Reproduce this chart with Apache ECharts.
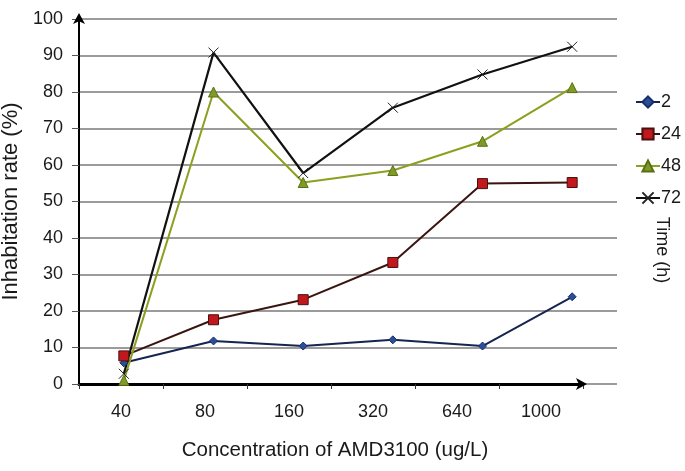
<!DOCTYPE html>
<html><head><meta charset="utf-8">
<script src="https://cdn.jsdelivr.net/npm/echarts@6/dist/echarts.min.js"></script>
<style>html,body{margin:0;padding:0;background:#fff}#c{width:685px;height:471px}</style>
</head><body><div id="c"></div>
<script>
const categories = ['40', '80', '160', '320', '640', '1000'];
const seriesNames = ['2', '24', '48', '72'];
const values2  = [5.8, 11.8, 10.4, 12.1, 10.4, 23.9];
const values24 = [7.7, 17.6, 23.1, 33.3, 54.9, 55.2];
const values48 = [1.0, 80.0, 55.2, 58.5, 66.5, 81.2];
const values72 = [2.8, 90.8, 57.8, 75.7, 84.8, 92.4];
const yTicks = { min: 0, max: 100, interval: 10 };

const FONT = 'Liberation Sans, Arial, sans-serif';
const chart = echarts.init(document.getElementById('c'), null, { renderer: 'canvas' });
const xMark = 'path://M0,0L10,10M10,0L0,10';

chart.setOption({
  animation: false,
  textStyle: { fontFamily: FONT },
  grid: [
    { left: 79, right: 68, top: 19, bottom: 87, outerBoundsMode: 'none', containLabel: false },
    { left: 79, right: 102, top: 19, bottom: 87, outerBoundsMode: 'none', containLabel: false }
  ],
  xAxis: [
    { type: 'category', gridIndex: 0, data: categories, boundaryGap: true, show: false },
    {
      type: 'category', gridIndex: 1, data: categories, boundaryGap: true,
      axisLine: { lineStyle: { color: '#000', width: 3 }, symbol: ['none', 'arrow'], symbolSize: [9, 11], symbolOffset: [0, 4] },
      axisTick: { show: true, length: 5, lineStyle: { color: '#333', width: 1 } },
      axisLabel: { color: '#1a1a1a', fontSize: 18, margin: 19, fontFamily: FONT },
      name: 'Concentration of AMD3100 (ug/L)', nameLocation: 'middle', nameGap: 56,
      nameTextStyle: { color: '#1a1a1a', fontSize: 20.5, fontFamily: FONT, padding: [0, 0, 0, 8] }
    }
  ],
  yAxis: [
    {
      type: 'value', gridIndex: 0, min: yTicks.min, max: yTicks.max, interval: yTicks.interval,
      axisLine: { show: true, lineStyle: { color: '#000', width: 2 }, symbol: ['none', 'arrow'], symbolSize: [9, 11], symbolOffset: [0, 6] },
      axisTick: { show: true, length: 7, lineStyle: { color: '#555', width: 1 } },
      axisLabel: { color: '#1a1a1a', fontSize: 18, margin: 16, fontFamily: FONT },
      splitLine: { show: true, lineStyle: { color: '#7a7a7a', width: 1.5 } },
      name: 'Inhabitation rate (%)', nameLocation: 'middle', nameGap: 56,
      nameTextStyle: { color: '#1a1a1a', fontSize: 22, fontFamily: FONT }
    },
    { type: 'value', gridIndex: 1, min: 0, max: 100, show: false, splitLine: { show: false } }
  ],
  legend: {
    orient: 'vertical', left: 630, top: 88, itemGap: 14, itemWidth: 24, itemHeight: 14,
    textStyle: { color: '#1a1a1a', fontSize: 18, fontFamily: FONT, padding: [0, 0, 0, -4] },
    data: seriesNames
  },
  graphic: [{
    type: 'text', x: 662, y: 250, rotation: -Math.PI / 2,
    style: { text: 'Time (h)', fill: '#1a1a1a', font: '18px ' + FONT, align: 'center', verticalAlign: 'middle' }
  }],
  series: [
    { name: '2', type: 'line', data: values2, symbol: 'diamond', symbolSize: 8,
      lineStyle: { color: '#15254f', width: 2 },
      itemStyle: { color: '#2a4f9a', borderColor: '#1a2f66', borderWidth: 1 } },
    { name: '24', type: 'line', data: values24, symbol: 'rect', symbolSize: 10,
      lineStyle: { color: '#3a1510', width: 2 },
      itemStyle: { color: '#c0181c', borderColor: '#4a1010', borderWidth: 1 } },
    { name: '48', type: 'line', data: values48, symbol: 'triangle', symbolSize: 10,
      lineStyle: { color: '#8aa01e', width: 2 },
      itemStyle: { color: '#7f9a2a', borderColor: '#5a7010', borderWidth: 1 } },
    { name: '72', type: 'line', data: values72, symbol: xMark, symbolSize: 10,
      lineStyle: { color: '#111', width: 2.2 },
      itemStyle: { color: 'rgba(0,0,0,0)', borderColor: '#222', borderWidth: 1 } }
  ]
});
</script></body></html>
